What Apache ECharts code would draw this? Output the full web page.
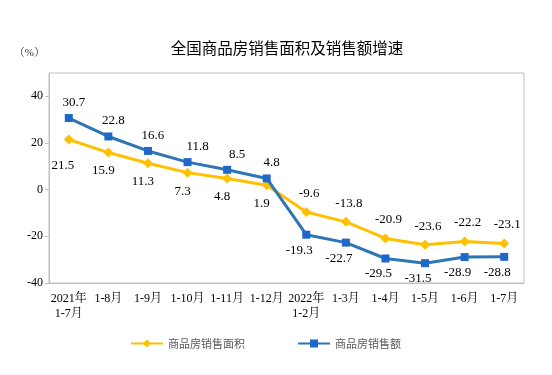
<!DOCTYPE html>
<html>
<head>
<meta charset="utf-8">
<script src="https://cdn.jsdelivr.net/npm/echarts@6/dist/echarts.min.js"></script>
<style>
  html, body { margin: 0; padding: 0; background: #fff; }
  #chart { width: 552px; height: 375px; }
</style>
</head>
<body>
<div id="chart"></div>
<script>
const categories = ["2021年\n1-7月", "1-8月", "1-9月", "1-10月", "1-11月", "1-12月",
  "2022年\n1-2月", "1-3月", "1-4月", "1-5月", "1-6月", "1-7月"];
const areaGrowth = [21.5, 15.9, 11.3, 7.3, 4.8, 1.9, -9.6, -13.8, -20.9, -23.6, -22.2, -23.1];
const salesGrowth = [30.7, 22.8, 16.6, 11.8, 8.5, 4.8, -19.3, -22.7, -29.5, -31.5, -28.9, -28.8];
const yTicks = [-40, -20, 0, 20, 40];

const serif = "'Liberation Serif', 'Noto Serif CJK SC', 'Noto Sans CJK SC', serif";
const sans = "'Noto Sans CJK SC', sans-serif";

// 2021 points (first 6) vs 2022 points: labels swap sides
function yellowItems(vals) {
  return vals.map((v, i) => ({
    value: v,
    label: i < 6
      ? { position: "bottom", offset: i === 0 ? [-6, 10] : [-5, 2] }
      : { position: "top", offset: [3, -2] }
  }));
}
function blueItems(vals) {
  return vals.map((v, i) => ({
    value: v,
    label: i < 6
      ? { position: "top", offset: [i > 2 && i < 5 ? 10 : 5, 0] }
      : { position: "bottom", offset: [-7, 0] }
  }));
}

const chart = echarts.init(document.getElementById("chart"));
chart.setOption({
  animation: false,
  title: {
    text: "全国商品房销售面积及销售额增速",
    left: 282,
    textAlign: "center",
    top: 35,
    textStyle: { fontFamily: sans, fontSize: 15.5, fontWeight: "normal", color: "#000" }
  },
  grid: { left: 49, right: 28, top: 73, bottom: 92, show: true, borderColor: "#BFBFBF", borderWidth: 1 },
  legend: {
    left: 125,
    top: 333,
    itemWidth: 32,
    itemHeight: 10,
    itemGap: 52,
    textStyle: { fontFamily: sans, fontSize: 11, color: "#595959" },
    data: ["商品房销售面积", "商品房销售额"]
  },
  xAxis: {
    type: "category",
    data: categories,
    boundaryGap: true,
    axisLine: { onZero: false, lineStyle: { color: "#BFBFBF" } },
    axisTick: { inside: true, length: 4, lineStyle: { color: "#BFBFBF" } },
    axisLabel: { interval: 0, fontFamily: serif, fontSize: 12, color: "#000", margin: 8, lineHeight: 15 }
  },
  yAxis: {
    type: "value",
    min: -40,
    max: 50,
    interval: 20,
    name: "（%）",
    nameGap: 14,
    nameTextStyle: { fontFamily: serif, fontSize: 11, color: "#333", align: "right", padding: [0, 4, 0, 0] },
    axisLine: { show: true, lineStyle: { color: "#BFBFBF" } },
    axisTick: { show: true, length: 4, customValues: yTicks, lineStyle: { color: "#BFBFBF" } },
    splitLine: { show: false },
    axisLabel: {
      fontFamily: serif, fontSize: 12, color: "#000", margin: 6,
      customValues: yTicks
    }
  },
  series: [
    {
      name: "商品房销售面积",
      type: "line",
      data: yellowItems(areaGrowth),
      symbol: "diamond",
      symbolSize: 10,
      lineStyle: { width: 3, color: "#FFC000" },
      itemStyle: { color: "#FFC000" },
      label: { show: true, fontFamily: serif, fontSize: 13, color: "#000" },
      z: 3
    },
    {
      name: "商品房销售额",
      type: "line",
      data: blueItems(salesGrowth),
      symbol: "rect",
      symbolSize: 8,
      lineStyle: { width: 3, color: "#2E75B6" },
      itemStyle: { color: "#1F68C8" },
      label: { show: true, fontFamily: serif, fontSize: 13, color: "#000" },
      z: 4
    }
  ]
});
</script>
</body>
</html>
